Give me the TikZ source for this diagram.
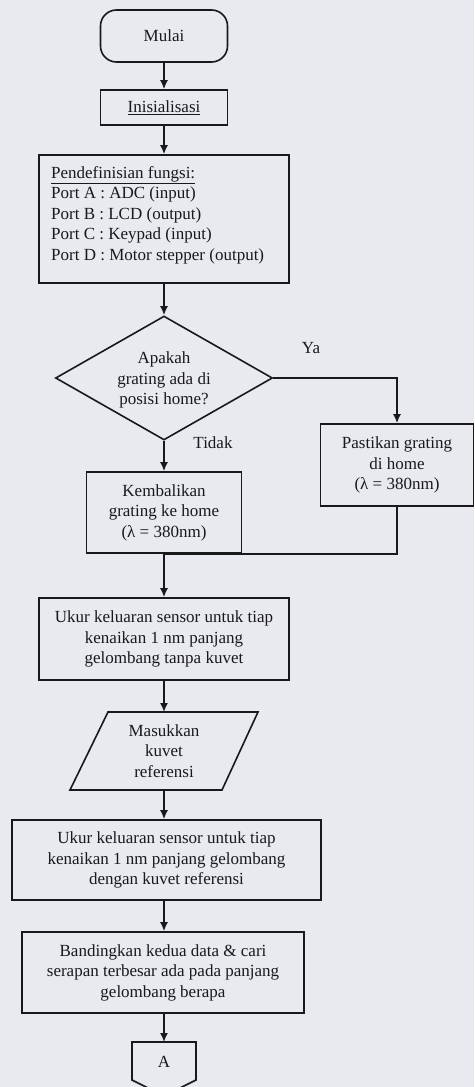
\documentclass[tikz,border=0pt]{standalone}
\usepackage{fontspec}
\setmainfont{Liberation Serif}
\usetikzlibrary{arrows.meta,shapes.geometric}
\definecolor{bg}{RGB}{232,234,240}
\definecolor{ink}{RGB}{25,25,28}
\begin{document}
\begin{tikzpicture}[x=1pt,y=-1pt,
  every node/.style={font=\fontsize{17}{20.5}\selectfont, text=ink},
  box/.style={draw=ink, line width=1.6pt, rectangle, inner sep=0pt, align=center},
  ln/.style={draw=ink, line width=1.6pt},
  arr/.style={draw=ink, line width=1.6pt, -{Latex[length=9pt,width=8pt]}},
  lbl/.style={inner sep=0pt}]
\fill[bg] (0,0) rectangle (474,1087);
\useasboundingbox (0,0) rectangle (474,1087);

% start
\node[box, rounded corners=16pt, minimum width=127pt, minimum height=52pt] (mulai) at (164,36) {Mulai};
\node[box, minimum width=127pt, minimum height=35pt] (init) at (164,107.5) {\underline{Inisialisasi}};
\draw[arr] (mulai.south) -- (init.north);

% definitions
\node[box, minimum width=250pt, minimum height=128pt] (def) at (164,219) {};
\node[lbl, anchor=north west, align=left] (deftxt) at (51,166)
  {\underline{Pendefinisian fungsi:}\\Port A : ADC (input)\\Port B : LCD (output)\\Port C : Keypad (input)\\Port D : Motor stepper (output)};
\draw[arr] (init.south) -- (def.north);

% decision
\node[draw=ink, line width=1.6pt, diamond, minimum width=217pt, minimum height=124pt, inner sep=0pt] (dec) at (164,378) {};
\node[lbl, align=center] (dectxt) at (164,380) {Apakah\\grating ada di\\posisi home?};
\draw[arr] (def.south) -- (dec.north);
\node[lbl] (ya) at (311,348) {Ya};
\node[lbl] (tidak) at (213,443) {Tidak};

% branches
\node[box, minimum width=153pt, minimum height=82pt] (pas) at (397,465) {Pastikan grating\\di home\\(λ = 380nm)};
\node[box, minimum width=155pt, minimum height=81pt] (kem) at (164,512.5) {Kembalikan\\grating ke home\\(λ = 380nm)};
\draw[arr] (dec.east) -| (pas.north);
\draw[arr] (dec.south) -- (kem.north);
\draw[ln] (pas.south) |- (kem.south);

% measure 1
\node[box, minimum width=250pt, minimum height=82pt] (uk1) at (164,639) {Ukur keluaran sensor untuk tiap\\kenaikan 1 nm panjang\\gelombang tanpa kuvet};
\draw[arr] (kem.south) -- (uk1.north);

% input parallelogram
\coordinate (mastop) at (164,712);
\coordinate (masbot) at (164,790);
\draw[ln] (108,712) -- (258,712) -- (222,790) -- (70,790) -- cycle;
\node[lbl, align=center] (mas) at (164,751) {Masukkan\\kuvet\\referensi};
\draw[arr] (uk1.south) -- (mastop);

% measure 2
\node[box, minimum width=309pt, minimum height=80pt] (uk2) at (166.5,860) {Ukur keluaran sensor untuk tiap\\kenaikan 1 nm panjang gelombang\\dengan kuvet referensi};
\draw[arr] (masbot) -- (masbot |- uk2.north);

% compare
\node[box, minimum width=282pt, minimum height=81pt] (band) at (163,972.5) {Bandingkan kedua data \& cari\\serapan terbesar ada pada panjang\\gelombang berapa};
\coordinate (u2b) at (164,900);
\draw[arr] (u2b) -- (u2b |- band.north);

% off-page connector
\coordinate (Atop) at (164,1042);
\draw[ln] (132,1042) -- (196,1042) -- (196,1080) -- (164,1096) -- (132,1080) -- cycle;
\node[lbl] (A) at (164,1062) {A};
\coordinate (bandb) at (164,1013);
\draw[arr] (bandb) -- (Atop);
\end{tikzpicture}
\end{document}
